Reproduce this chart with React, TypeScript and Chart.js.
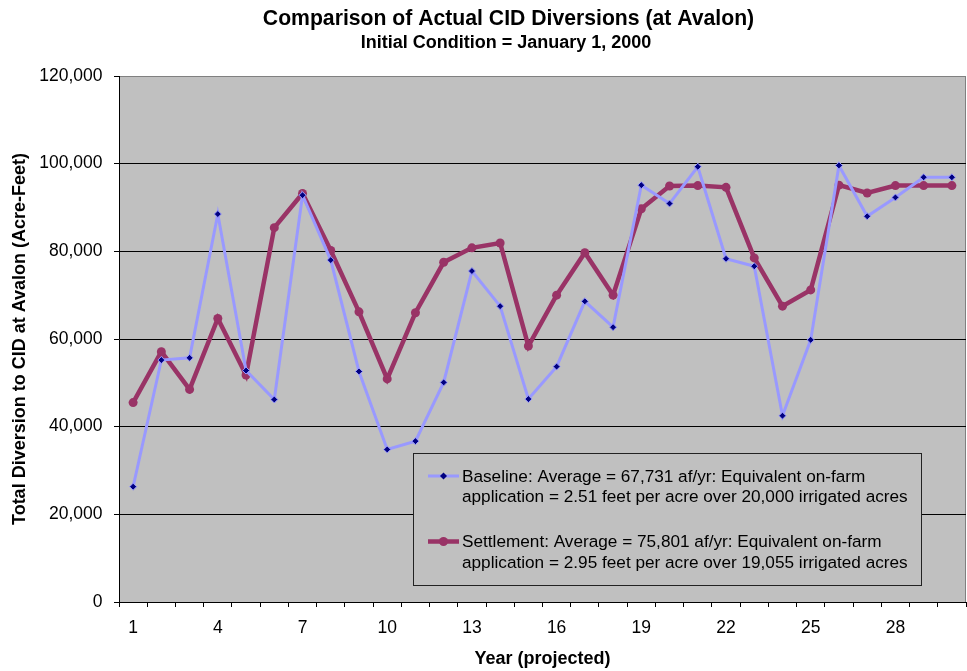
import React, { useEffect, useRef } from "react";
import { Chart, registerables } from "chart.js";

Chart.register(...registerables);

const FONT = 'Arial, "Liberation Sans", sans-serif';

const titleText = "Comparison of Actual CID Diversions (at Avalon)";
const subtitleText = "Initial Condition = January 1, 2000";
const xTitle = "Year (projected)";
const yTitle = "Total Diversion to CID at Avalon (Acre-Feet)";

const years = [
  "1", "2", "3", "4", "5", "6", "7", "8", "9", "10",
  "11", "12", "13", "14", "15", "16", "17", "18", "19", "20",
  "21", "22", "23", "24", "25", "26", "27", "28", "29", "30",
];

const baseline = [
  26300, 55200, 55700, 88500, 52800, 46200, 92800, 78000, 52600, 34800,
  36700, 50100, 75500, 67500, 46300, 53700, 68600, 62700, 95100, 90900,
  99300, 78300, 76600, 42500, 59800, 99600, 88000, 92300, 96900, 96900,
];

const settlement = [
  45500, 57100, 48500, 64700, 51800, 85400, 93200, 80200, 66200, 50900,
  66000, 77500, 80800, 81900, 58400, 70000, 79700, 70000, 89700, 94900,
  95000, 94600, 78500, 67500, 71200, 95100, 93300, 95000, 95000, 95000,
];

const baselineLegend = [
  "Baseline: Average = 67,731 af/yr: Equivalent on-farm",
  "application = 2.51 feet per acre over 20,000 irrigated acres",
];
const settlementLegend = [
  "Settlement: Average = 75,801 af/yr: Equivalent on-farm",
  "application = 2.95 feet per acre over 19,055 irrigated acres",
];

const yMin = 0;
const yMax = 120000;
const yStep = 20000;

const BASE_LINE = "#9999FF";
const BASE_POINT = "#000080";
const SETTLE = "#993366";
const PLOT_BG = "#C0C0C0";

const titlePlugin = {
  id: "titles",
  afterDraw(chart: any) {
    const { ctx } = chart;
    ctx.save();
    ctx.fillStyle = "#000";
    ctx.textAlign = "center";
    ctx.textBaseline = "middle";
    ctx.font = `bold 21.2px ${FONT}`;
    ctx.fillText(titleText, 508.5, 19.6);
    ctx.font = `bold 18px ${FONT}`;
    ctx.fillText(subtitleText, 506, 43);
    ctx.restore();
  },
};

const bgPlugin = {
  id: "plotBg",
  beforeDraw(chart: any) {
    const { ctx, chartArea: a } = chart;
    ctx.save();
    ctx.fillStyle = PLOT_BG;
    ctx.fillRect(a.left, a.top, a.right - a.left, a.bottom - a.top);
    ctx.strokeStyle = "#808080";
    ctx.lineWidth = 1;
    ctx.beginPath();
    ctx.moveTo(Math.round(a.right) - 0.5, a.top);
    ctx.lineTo(Math.round(a.right) - 0.5, a.bottom);
    ctx.stroke();
    ctx.restore();
  },
};

const legendPlugin = {
  id: "boxLegend",
  afterDraw(chart: any) {
    const { ctx, chartArea: a } = chart;
    const left = a.left + 294;
    const top = a.top + 377;
    const w = 508;
    const h = 132;
    ctx.save();
    ctx.fillStyle = PLOT_BG;
    ctx.fillRect(left, top, w, h);
    ctx.strokeStyle = "#222";
    ctx.lineWidth = 1;
    ctx.strokeRect(Math.round(left) + 0.5, Math.round(top) + 0.5, w, h);

    const items = [
      { lines: baselineLegend, y: top + 23, kind: "base" },
      { lines: settlementLegend, y: top + 88.5, kind: "settle" },
    ];
    const sx0 = left + 15;
    const sx1 = left + 46;
    const tx = left + 49;
    ctx.font = `17.2px ${FONT}`;
    ctx.textBaseline = "middle";
    ctx.textAlign = "left";
    items.forEach((it) => {
      const cy = it.y;
      const cx = (sx0 + sx1) / 2;
      ctx.beginPath();
      ctx.moveTo(sx0, cy);
      ctx.lineTo(sx1, cy);
      if (it.kind === "base") {
        ctx.strokeStyle = BASE_LINE;
        ctx.lineWidth = 3;
        ctx.stroke();
        ctx.beginPath();
        ctx.moveTo(cx, cy - 3.5);
        ctx.lineTo(cx + 3.5, cy);
        ctx.lineTo(cx, cy + 3.5);
        ctx.lineTo(cx - 3.5, cy);
        ctx.closePath();
        ctx.fillStyle = BASE_POINT;
        ctx.fill();
      } else {
        ctx.strokeStyle = SETTLE;
        ctx.lineWidth = 4.5;
        ctx.stroke();
        ctx.beginPath();
        ctx.arc(cx, cy, 4.5, 0, Math.PI * 2);
        ctx.fillStyle = SETTLE;
        ctx.fill();
      }
      ctx.fillStyle = "#000";
      it.lines.forEach((ln, i) => {
        ctx.fillText(ln, tx, cy + 1 + i * 20.5);
      });
    });
    ctx.restore();
  },
};

export default function App() {
  const ref = useRef<HTMLCanvasElement | null>(null);

  useEffect(() => {
    if (!ref.current) return;
    Chart.defaults.font.family = FONT;
    Chart.defaults.color = "#000";
    const chart = new Chart(ref.current, {
      type: "line",
      data: {
        labels: years,
        datasets: [
          {
            label: baselineLegend.join(" "),
            data: baseline,
            borderColor: BASE_LINE,
            borderWidth: 3,
            backgroundColor: BASE_POINT,
            pointStyle: "rectRot",
            pointRadius: 3.5,
            pointBorderColor: BASE_LINE,
            pointBorderWidth: 1,
            pointBackgroundColor: BASE_POINT,
            tension: 0,
            fill: false,
          },
          {
            label: settlementLegend.join(" "),
            data: settlement,
            borderColor: SETTLE,
            borderWidth: 4.5,
            backgroundColor: SETTLE,
            pointStyle: "circle",
            pointRadius: 4.5,
            pointBorderColor: SETTLE,
            pointBorderWidth: 0,
            pointBackgroundColor: SETTLE,
            tension: 0,
            fill: false,
          },
        ],
      },
      options: {
        responsive: false,
        animation: false,
        events: [],
        layout: { autoPadding: false, padding: { left: 0, right: 1, top: 76, bottom: 0 } },
        plugins: {
          legend: { display: false },
          tooltip: { enabled: false },
          title: { display: false },
          subtitle: { display: false },
        },
        scales: {
          x: {
            type: "category",
            offset: true,
            grid: {
              offset: true,
              drawOnChartArea: false,
              drawTicks: true,
              tickLength: 5,
              color: "#000",
              tickColor: "#000",
            },
            border: { color: "#000", width: 1 },
            ticks: {
              autoSkip: false,
              maxRotation: 0,
              minRotation: 0,
              padding: 10.5,
              color: "#000",
              font: { size: 17.5, family: FONT },
              callback: function (this: any, v: any, i: number) {
                return i % 3 === 0 ? this.getLabelForValue(v) : "";
              },
            },
            title: {
              display: true,
              text: xTitle,
              color: "#000",
              font: { size: 18, weight: "bold", family: FONT },
              padding: { top: 0, bottom: 1 },
            },
            afterFit: (s: any) => {
              s.height = 69;
              s.paddingLeft = 0;
              s.paddingRight = 0;
            },
          },
          y: {
            min: yMin,
            max: yMax,
            ticks: {
              stepSize: yStep,
              padding: 11.5,
              color: "#000",
              font: { size: 17.5, family: FONT },
              callback: (v: any) => Number(v).toLocaleString("en-US"),
            },
            grid: {
              color: (c: any) => (c.tick && c.tick.value === yMax ? "#808080" : "#000"),
              tickColor: "#000",
              tickLength: 5,
              lineWidth: 1,
            },
            border: { color: "#000", width: 1 },
            title: {
              display: true,
              text: yTitle,
              color: "#000",
              font: { size: 18, weight: "bold", family: FONT },
              padding: { top: 9.5, bottom: 0 },
            },
            afterFit: (s: any) => {
              s.width = 119;
            },
          },
        },
      },
      plugins: [bgPlugin, legendPlugin, titlePlugin],
    } as any);
    return () => chart.destroy();
  }, []);

  return (
    <div style={{ position: "absolute", left: 0, top: 0, width: 967, height: 671, background: "#fff" }}>
      <canvas ref={ref} width={967} height={671} style={{ display: "block" }} />
    </div>
  );
}
